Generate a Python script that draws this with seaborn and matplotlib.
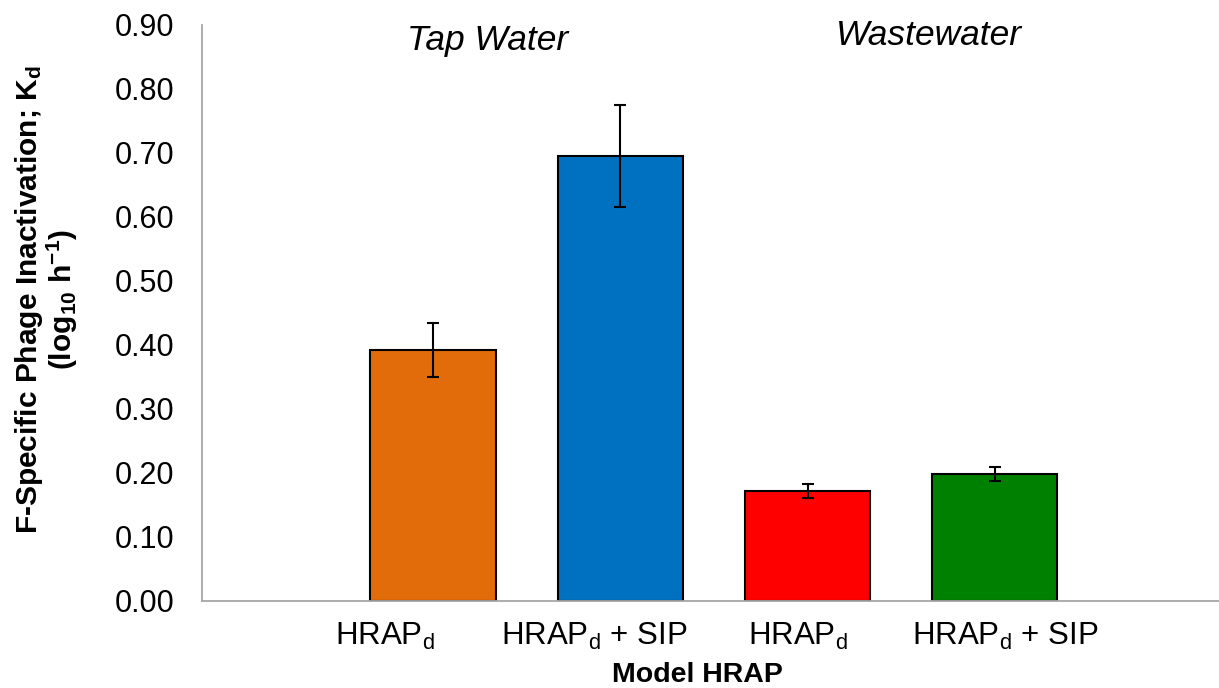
import matplotlib
matplotlib.use("Agg")
import matplotlib.pyplot as plt
import matplotlib.transforms as mtransforms
import seaborn as sns
import pandas as pd

# ---- data ----
keys = ["tap_hrap", "tap_hrap_sip", "ww_hrap", "ww_hrap_sip"]
tick_labels = ["HRAP$_\\mathrm{d}$", "HRAP$_\\mathrm{d}$ + SIP",
               "HRAP$_\\mathrm{d}$", "HRAP$_\\mathrm{d}$ + SIP"]
group_names = ["Tap Water", "Wastewater"]
values = [0.392, 0.695, 0.172, 0.199]
errors = [0.042, 0.080, 0.011, 0.011]
colors = ["#E36C0A", "#0070C0", "#FF0000", "#008000"]
yticks = [0.0, 0.1, 0.2, 0.3, 0.4, 0.5, 0.6, 0.7, 0.8, 0.9]

sns.set_theme(style="white")
plt.rcParams["font.family"] = ["Liberation Sans", "DejaVu Sans"]
plt.rcParams["mathtext.fontset"] = "custom"
plt.rcParams["mathtext.rm"] = "Liberation Sans"
plt.rcParams["mathtext.it"] = "Liberation Sans:italic"
plt.rcParams["mathtext.bf"] = "Liberation Sans:bold"
plt.rcParams["text.color"] = "black"
plt.rcParams["axes.labelcolor"] = "black"
plt.rcParams["xtick.color"] = "black"
plt.rcParams["ytick.color"] = "black"

df = pd.DataFrame({"key": keys, "value": values})

fig = plt.figure(figsize=(12.19, 6.88), dpi=100)
ax = fig.add_axes([202 / 1219, 87 / 688, 1 - 202 / 1219, 576 / 688])

sns.barplot(data=df, x="key", y="value", hue="key", palette=colors,
            order=keys, hue_order=keys, dodge=False, width=0.67,
            edgecolor="black", linewidth=1.5, legend=False, ax=ax,
            errorbar=None, saturation=1)

xs = [p.get_x() + p.get_width() / 2 for p in ax.patches[:len(keys)]]
ax.errorbar(xs, values, yerr=errors, fmt="none", ecolor="black",
            elinewidth=1.5, capsize=4.5, capthick=1.5)

ax.set_xlim(-1.235, 4.198)
ax.set_ylim(0, 0.9)
ax.set_yticks(yticks)
ax.set_yticklabels([f"{t:.2f}" for t in yticks])
ax.set_xticks(range(len(keys)))
ax.set_xticklabels(tick_labels)
ax.tick_params(axis="y", labelsize=22, pad=20, length=0, colors="black")
ax.tick_params(axis="x", labelsize=22.5, pad=14, length=0, colors="black")

# shift x tick labels slightly as in the reference
offsets_px = [-48, -26, -10, 11]
for lab, off in zip(ax.get_xticklabels(), offsets_px):
    lab.set_transform(lab.get_transform() +
                      mtransforms.ScaledTranslation(off / 100, 0, fig.dpi_scale_trans))

for side in ["top", "right"]:
    ax.spines[side].set_visible(False)
for side in ["left", "bottom"]:
    ax.spines[side].set_color("#A6A6A6")
    ax.spines[side].set_linewidth(1.3)

ax.set_xlabel("Model HRAP", fontsize=20.5, fontweight="bold", color="black")
ax.xaxis.set_label_coords((697 - 202) / 1017, (601 - 662) / 576)
ax.set_ylabel("F-Specific Phage Inactivation; K$_\\mathbf{d}$\n(log$_\\mathbf{10}$ h$^\\mathbf{-1}$)",
              fontsize=21.5, fontweight="bold", linespacing=1.0, color="black")
ax.yaxis.set_label_coords((80 - 202) / 1017, (601 - 300) / 576)

trans = mtransforms.blended_transform_factory(ax.transData, ax.transAxes)
ax.text(0.29, (601 - 50) / 576, group_names[0], transform=trans, ha="center",
        va="baseline", fontsize=25.5, style="italic", color="black")
ax.text(2.65, (601 - 45) / 576, group_names[1], transform=trans, ha="center",
        va="baseline", fontsize=25.5, style="italic", color="black")

fig.savefig("out.png", dpi=100)
